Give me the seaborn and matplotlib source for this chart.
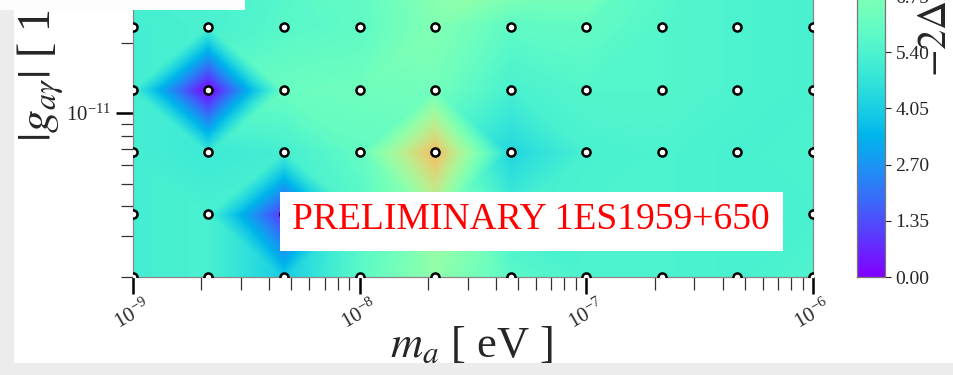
import numpy as np
import pandas as pd
import matplotlib
matplotlib.use("Agg")
import matplotlib.pyplot as plt
import matplotlib.tri as mtri
from matplotlib.patches import Rectangle
from matplotlib.ticker import LogLocator
import seaborn as sns

# Scan grid: axion mass [eV] and photon coupling |g_a gamma| [1/GeV]
mass_ev = [1.0e-9, 2.15e-9, 4.64e-9, 1.0e-8, 2.15e-8,
           4.64e-8, 1.0e-7, 2.15e-7, 4.64e-7, 1.0e-6]
coupling = [2.0e-12, 3.7e-12, 6.8e-12, 1.26e-11, 2.34e-11,
            4.32e-11, 8.0e-11, 1.48e-10, 2.7e-10, 5.0e-10]

# -2 Delta lnL at every grid node; one row per coupling value (lowest first)
ts_rows = [
    [5.2, 5.3, 4.0, 5.8, 7.2, 5.8, 5.4, 5.4, 5.3, 5.5],
    [5.2, 5.3, 0.9, 5.6, 7.6, 5.2, 5.4, 5.4, 5.3, 5.3],
    [5.2, 5.0, 5.2, 6.0, 10.0, 4.3, 5.3, 5.4, 5.3, 5.4],
    [5.2, 0.0, 6.2, 6.3, 6.4, 5.3, 5.6, 5.6, 5.4, 5.3],
    [5.2, 5.3, 5.7, 5.9, 6.8, 5.9, 6.0, 5.6, 5.4, 5.3],
    [5.3, 5.4, 5.6, 6.0, 7.2, 7.6, 7.2, 5.8, 5.4, 5.3],
    [5.3, 5.4, 5.5, 5.8, 6.2, 6.4, 6.0, 5.6, 5.4, 5.3],
    [5.3, 5.3, 5.4, 5.6, 5.8, 5.8, 5.6, 5.5, 5.4, 5.3],
    [5.3, 5.3, 5.4, 5.5, 5.6, 5.6, 5.5, 5.4, 5.3, 5.3],
    [5.3, 5.3, 5.3, 5.4, 5.5, 5.5, 5.4, 5.4, 5.3, 5.3],
]
cbar_ticks = [0.00, 1.35, 2.70, 4.05, 5.40, 6.75, 8.10, 9.45, 10.80, 12.15, 13.50]
label_text = "PRELIMINARY 1ES1959+650"

sns.set_theme(style="white")
plt.rcParams["font.family"] = ["Liberation Serif", "DejaVu Serif"]
plt.rcParams["mathtext.fontset"] = "stix"

W, H = 954, 375
fig = plt.figure(figsize=(W / 100, H / 100), dpi=100)
fig.patch.set_facecolor("#ececec")


def px_box(x0, y0, x1, y1):
    """Figure-fraction rectangle from pixel edges (y measured from the top)."""
    return (x0 / W, 1 - y1 / H, (x1 - x0) / W, (y1 - y0) / H)


def add_rect(x0, y0, x1, y1, color, z):
    rx, ry, rw, rh = px_box(x0, y0, x1, y1)
    fig.patches.append(Rectangle((rx, ry), rw, rh, transform=fig.transFigure,
                                 facecolor=color, edgecolor="none", zorder=z))


# white slide area holding the figure
add_rect(14, 0, W, 363, "white", -10)

ax = fig.add_axes(px_box(133, -285, 813, 277))
cax = fig.add_axes(px_box(857, -285, 885, 277))
ax.set_xscale("log")
ax.set_yscale("log")

# triangulate the grid in log space, splitting each cell along the flatter diagonal
nx, ny = len(mass_ev), len(coupling)
vals = np.array(ts_rows, dtype=float)
LX, LY = np.meshgrid(np.log10(mass_ev), np.log10(coupling))
tris = []
for j in range(ny - 1):
    for i in range(nx - 1):
        a, b, c, d = j * nx + i, j * nx + i + 1, (j + 1) * nx + i, (j + 1) * nx + i + 1
        va, vb, vc, vd = vals[j, i], vals[j, i + 1], vals[j + 1, i], vals[j + 1, i + 1]
        if abs(va - vd) <= abs(vb - vc):
            tris += [[a, b, d], [a, d, c]]
        else:
            tris += [[a, b, c], [b, d, c]]
tri = mtri.Triangulation(LX.ravel(), LY.ravel(), np.array(tris))
interp = mtri.LinearTriInterpolator(tri, vals.ravel())

# evaluate the piecewise-linear surface on a fine log-spaced raster
fx = np.linspace(LX.min(), LX.max(), 700)
fy = np.linspace(LY.min(), LY.max(), 600)
FX, FY = np.meshgrid(fx, fy)
FZ = interp(FX, FY)
mesh = ax.pcolormesh(10 ** FX, 10 ** FY, FZ, shading="gouraud", cmap="rainbow",
                     vmin=cbar_ticks[0], vmax=cbar_ticks[-1], rasterized=True)

grid = pd.DataFrame({"m": (10 ** LX).ravel(), "g": (10 ** LY).ravel()})
sns.scatterplot(data=grid, x="m", y="g", ax=ax, marker="o", s=34,
                facecolor="white", edgecolor="black", linewidth=1.8,
                zorder=3, legend=False)

ax.set_xlim(mass_ev[0], mass_ev[-1])
ax.set_ylim(coupling[0], coupling[-1])
ax.xaxis.set_major_locator(LogLocator(base=10, numticks=10))
ax.xaxis.set_minor_locator(LogLocator(base=10, subs=np.arange(2, 10), numticks=20))
ax.yaxis.set_minor_locator(LogLocator(base=10, subs=np.arange(2, 10), numticks=20))
ax.tick_params(which="major", direction="out", length=12, width=1.8, color="black",
               labelsize=15, bottom=True, left=True)
ax.tick_params(which="minor", direction="out", length=9, width=0.9, color="#333333",
               bottom=True, left=True)
for lbl in ax.get_xticklabels():
    lbl.set_rotation(30)
    lbl.set_ha("center")
ax.tick_params(axis="x", which="major", pad=2)
for sp in ax.spines.values():
    sp.set_color("#888888")
    sp.set_linewidth(0.9)
ax.set_xlabel("")
ax.set_ylabel("")

cb = fig.colorbar(mesh, cax=cax, ticks=cbar_ticks, format="%.2f")
cb.outline.set_edgecolor("#777777")
cb.outline.set_linewidth(0.9)
cax.tick_params(direction="out", length=4, width=0.8, labelsize=14, right=True)

fig.text(472 / W, 1 - 346 / H, r"$m_a$ [ eV ]", fontsize=32, ha="center", va="center")
fig.text(41 / W, 1 - 142 / H, r"$|g_{a\gamma}|$ [ 1/GeV ]", fontsize=33,
         rotation=90, ha="center", va="bottom")
fig.text(937 / W, 1 - 77 / H, r"$-2\Delta\ln\mathcal{L}$", fontsize=29,
         rotation=90, ha="center", va="bottom")

# boxed preliminary tag
add_rect(280, 192, 783, 251, "white", 4)
fig.text(531 / W, 1 - 229 / H, label_text, fontsize=27, color="red",
         ha="center", va="baseline", zorder=5)

# header strip of the slide overlapping the top-left corner
add_rect(0, 0, 245, 10, "#fdfdfd", 10)

fig.savefig("out.png", dpi=100, facecolor=fig.get_facecolor())
